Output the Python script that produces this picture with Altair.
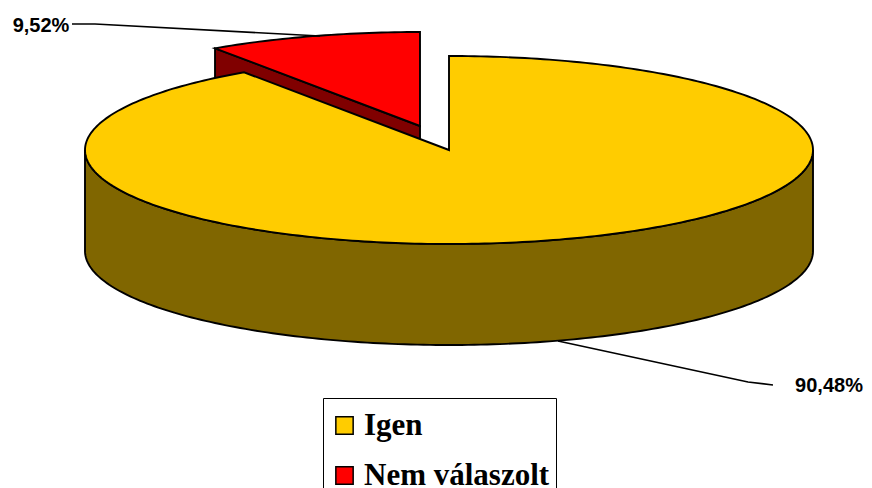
import math
import altair as alt

# Chart values
categories = ["Igen", "Nem válaszolt"]
values = [90.48, 9.52]
value_labels = ["90,48%", "9,52%"]
top_colors = ["#FFCC00", "#FF0000"]
side_colors = ["#806600", "#800000"]

# Pie geometry in page pixels, the margin of the page taken off
OFF = 8
CX, CY, RX, RY = 449 - OFF, 150 - OFF, 364, 94
DEPTH = 101
EXPLODE = (-29, -24)


def rim(a0, a1, dx=0, dy=0, step=1.0):
    """Ellipse points, clockwise from 12 o'clock, angles in degrees."""
    n = max(2, int(abs(a1 - a0) / step))
    out = []
    for i in range(n + 1):
        a = math.radians(a0 + (a1 - a0) * i / n)
        out.append([CX + dx + RX * math.sin(a), CY + dy - RY * math.cos(a)])
    return out


def feature(coords, name, kind="Polygon"):
    if kind == "Polygon":
        coords = [coords + [coords[0]]]
    return {"type": "Feature", "properties": {"name": name},
            "geometry": {"type": kind, "coordinates": coords}}


split = values[0] / sum(values) * 360
ex, ey = EXPLODE
center = [CX, CY]
center_red = [CX + ex, CY + ey]

# Front wall of the large slice: the part of the rim that faces the viewer
front = rim(90, split if split < 270 else 270)
wall = front + [[x, y + DEPTH] for x, y in reversed(front)]
wall_features = [feature(wall, "wall")]

# Cut face of the small slice (seen below its top)
edge = rim(split, split, ex, ey)[0]
cut = [center_red, edge, [edge[0], edge[1] + DEPTH],
       [center_red[0], center_red[1] + DEPTH]]
cut_features = [feature(cut, "cut")]

top_big = [feature([center] + rim(0, split), categories[0])]
top_small = [feature([center_red] + rim(split, 360, ex, ey), categories[1])]

leaders = [
    feature([[558 - OFF, 341 - OFF], [748 - OFF, 382 - OFF], [773 - OFF, 385 - OFF]], "l1", "LineString"),
    feature([[72 - OFF, 24 - OFF], [95 - OFF, 24 - OFF], [320 - OFF, 36 - OFF]], "l2", "LineString"),
]

labels = [
    {"lon": 829 - OFF, "lat": 386 - OFF, "t": value_labels[0]},
    {"lon": 41 - OFF, "lat": 26 - OFF, "t": value_labels[1]},
]

proj = dict(type="identity", scale=1, translate=[0, 0])


def shapes(feats, **kw):
    return alt.Chart(alt.Data(values=feats)).mark_geoshape(
        stroke="black", strokeWidth=1.9, **kw).project(**proj)


fill_enc = alt.Fill(
    "properties.name:N",
    scale=alt.Scale(domain=categories, range=top_colors),
    legend=alt.Legend(
        title=" ", titleFontSize=6, titlePadding=0,
        orient="none", legendX=323 - OFF, legendY=398 - OFF,
        fillColor="white", strokeColor="black", padding=6,
        symbolType="square", symbolSize=300, symbolStrokeColor="black",
        symbolStrokeWidth=1.5, labelFont="Liberation Serif", labelFontWeight="bold",
        labelFontSize=31, labelColor="black", labelLimit=300, rowPadding=18,
        labelOffset=4,
    ),
)

cut_layer = shapes(cut_features, fill=side_colors[1])
wall_layer = shapes(wall_features, fill=side_colors[0])
small_layer = shapes(top_small).encode(fill=fill_enc)
big_layer = shapes(top_big).encode(fill=fill_enc)
leader_layer = alt.Chart(alt.Data(values=leaders)).mark_geoshape(
    filled=False, stroke="black", strokeWidth=1.6).project(**proj)
text_layer = alt.Chart(alt.Data(values=labels)).mark_text(
    font="Liberation Sans", fontWeight="bold", fontSize=20, color="black"
).encode(longitude="lon:Q", latitude="lat:Q", text="t:N").project(**proj)

chart = alt.layer(
    cut_layer, small_layer, wall_layer, big_layer, leader_layer, text_layer,
).properties(
    width=856, height=480, padding=0,
    autosize=alt.AutoSizeParams(type="none"),
).configure_view(stroke=None)

chart.save("out.html", embed_options={"renderer": "svg", "actions": False})
